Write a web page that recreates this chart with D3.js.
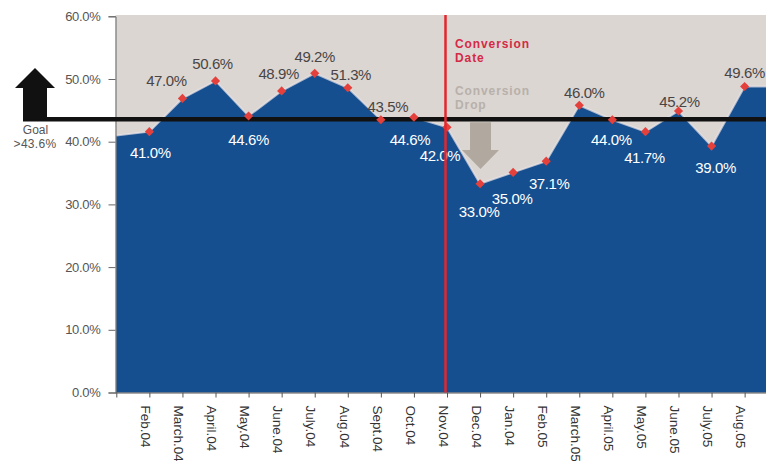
<!DOCTYPE html>
<html><head><meta charset="utf-8">
<script src="https://cdn.jsdelivr.net/npm/d3@7"></script>
<style>
html,body{margin:0;padding:0;background:#fff;}
svg{display:block;font-family:"Liberation Sans",Arial,sans-serif;}
</style></head>
<body>
<svg id="chart" width="766" height="461"></svg>
<script>
// ---- data ----
const categories = ["", "Feb.04","March.04","April.04","May.04","June.04","July.04","Aug.04","Sept.04","Oct.04","Nov.04","Dec.04","Jan.04","Feb.05","March.05","April.05","May.05","June.05","July.05","Aug.05",""];
const values = [41.0, 41.6, 46.9, 49.7, 44.1, 48.1, 50.9, 48.6, 43.5, 43.9, 42.3, 33.3, 35.1, 36.9, 45.8, 43.5, 41.6, 44.9, 39.3, 48.8, 48.8];
const labels = [null, "41.0%","47.0%","50.6%","44.6%","48.9%","49.2%","51.3%","43.5%","44.6%","42.0%","33.0%","35.0%","37.1%","46.0%","44.0%","41.7%","45.2%","39.0%","49.6%", null];
const yTicks = [0, 10, 20, 30, 40, 50, 60];
const goalValue = 43.6;
const conversionIndex = 10;

// ---- layout (label placement: dx, baseline dy, light/dark) ----
const labelLayout = [
  null,
  [1, 26, "in"], [-16, -12, "out"], [-3, -12, "out"], [0, 29, "in"], [-3, -12, "out"],
  [0, -11, "out"], [3, -8, "out"], [7, -8, "out"], [-4, 28, "in"], [-7, 34, "in"],
  [-1, 33, "in"], [-1, 32, "in"], [3, 28, "in"], [5, -7, "out"], [-1, 25, "in"],
  [-1, 31, "in"], [1, -4, "out"], [4, 27, "in"], [0, -9, "out"], null
];

const svg = d3.select("#chart");
const plotLeft = 115.5, plotBottom = 392.5, plotTop = 15;
const x = d3.scaleLinear().domain([0, categories.length - 1]).range([116.3, 116.3 + 33.07 * (categories.length - 1)]);
const y = d3.scaleLinear().domain([0, 60]).range([392.5, 16.3]);

// plot background
svg.append("rect").attr("x", plotLeft).attr("y", plotTop).attr("width", 766 - plotLeft).attr("height", plotBottom - plotTop).attr("fill", "#dbd6d2");

const idx = d3.range(values.length);
const area = d3.area().x(i => x(i)).y0(y(0)).y1(i => y(values[i]));
svg.append("path").datum(idx).attr("d", area).attr("fill", "#154f8f");
const line = d3.line().x(i => x(i)).y(i => y(values[i]));
svg.append("path").datum(idx).attr("d", line).attr("fill", "none").attr("stroke", "#ece6e8").attr("stroke-width", 2).attr("opacity", 0.7);

// y axis
const yAxis = svg.append("g").attr("transform", `translate(${plotLeft},0)`)
  .call(d3.axisLeft(y).tickValues(yTicks).tickFormat(d => d.toFixed(1) + "%").tickSize(7).tickPadding(8));
yAxis.select(".domain").attr("stroke", "#666");
yAxis.selectAll(".tick line").attr("stroke", "#666");
yAxis.selectAll("text").attr("font-size", 13).attr("fill", "#555").attr("letter-spacing", -0.3).attr("font-family", "Liberation Sans, Arial, sans-serif");

// x axis
const xAxis = svg.append("g").attr("transform", `translate(0,${plotBottom})`)
  .call(d3.axisBottom(x).tickValues(idx).tickFormat(i => categories[i]).tickSizeOuter(0).tickSize(5));
xAxis.select(".domain").attr("stroke", "#555").attr("d", `M${plotLeft},0.5H766`);
xAxis.selectAll(".tick line").attr("stroke", "#555");
xAxis.selectAll("text")
  .attr("font-size", 13.5).attr("fill", "#333").attr("font-family", "Liberation Sans, Arial, sans-serif")
  .attr("text-anchor", "start").attr("transform", "translate(-4,13) rotate(90)")
  .attr("x", 0).attr("y", 0).attr("dy", "0.35em");

// goal line
svg.append("line").attr("x1", 23).attr("x2", 766).attr("y1", y(goalValue)).attr("y2", y(goalValue))
  .attr("stroke", "#111").attr("stroke-width", 4.5);

// markers
svg.append("g").selectAll("path").data(idx.filter(i => labels[i])).join("path")
  .attr("transform", i => `translate(${x(i)},${y(values[i])}) rotate(45)`)
  .attr("d", d3.symbol(d3.symbolSquare, 42)).attr("fill", "#e5413c");

// data labels
svg.append("g").selectAll("text").data(idx.filter(i => labels[i])).join("text")
  .attr("x", i => x(i) + labelLayout[i][0]).attr("y", i => y(values[i]) + labelLayout[i][1])
  .attr("text-anchor", "middle").attr("font-size", 15).attr("letter-spacing", -0.4)
  .attr("fill", i => labelLayout[i][2] === "in" ? "#ffffff" : "#4a4545")
  .text(i => labels[i]);

// conversion vertical line
svg.append("line").attr("x1", x(conversionIndex) - 1.5).attr("x2", x(conversionIndex) - 1.5).attr("y1", plotTop).attr("y2", plotBottom)
  .attr("stroke", "#e3262c").attr("stroke-width", 2.5);

// annotations
const ann = svg.append("g").attr("font-size", 12).attr("font-weight", "bold").attr("letter-spacing", 0.9);
ann.append("text").attr("x", 455).attr("y", 48).attr("fill", "#d42a45").text("Conversion");
ann.append("text").attr("x", 455).attr("y", 62).attr("fill", "#d42a45").text("Date");
ann.append("text").attr("x", 455).attr("y", 95).attr("fill", "#b8b0aa").text("Conversion");
ann.append("text").attr("x", 455).attr("y", 109).attr("fill", "#b8b0aa").text("Drop");

// gray down arrow
const gy = y(goalValue) + 3;
svg.append("path")
  .attr("d", `M470,${gy} L491,${gy} L491,150 L499,150 L480.5,169 L462,150 L470,150 Z`)
  .attr("fill", "#b1a99f");

// black up arrow
svg.append("path")
  .attr("d", `M23,${y(goalValue)} L23,88 L15,88 L35,68 L55,88 L47,88 L47,${y(goalValue)} Z`)
  .attr("fill", "#111");

// goal text
const g = svg.append("g").attr("font-size", 12).attr("fill", "#555").attr("text-anchor", "middle");
g.append("text").attr("x", 35.5).attr("y", 134).text("Goal");
g.append("text").attr("x", 35).attr("y", 148).attr("letter-spacing", 0.3).text(">43.6%");
</script>
</body></html>
